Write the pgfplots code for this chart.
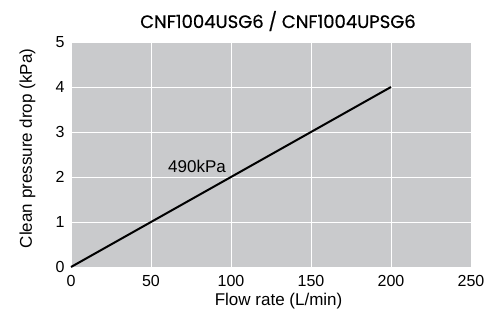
\documentclass[border=0pt]{standalone}
\usepackage{pgfplots}
\pgfplotsset{compat=1.18}
\usepackage{fontspec}
\setmainfont{Liberation Sans}
\newfontfamily\titlefont[FakeBold=0.6]{Poppins}
\definecolor{bgc}{HTML}{C9CACC}
\begin{document}
\begin{tikzpicture}[x=1pt,y=1pt]
\begin{axis}[
  at={(0,0)}, anchor=south west,
  scale only axis, width=400pt, height=225pt,
  xmin=0, xmax=250, ymin=0, ymax=5,
  xtick={0,50,...,250}, ytick={0,1,...,5},
  axis background/.style={fill=bgc},
  axis line style={draw=none},
  grid=major, major grid style={white, line width=0.8pt},
  tick style={draw=none},
  /pgf/number format/assume math mode=true,
  ticklabel style={font=\fontsize{16}{18}\selectfont},
  xticklabel style={anchor=center, yshift=-13.5pt},
  yticklabel style={anchor=center, xshift=-11pt},
  xlabel={Flow rate (L/min)}, ylabel={Clean pressure drop (kPa)},
  label style={font=\fontsize{17}{19}\selectfont},
  xlabel style={at={(axis description cs:0.519,-0.151)}, anchor=center},
  ylabel style={at={(axis description cs:-0.109,0.527)}, anchor=center},
  clip=false,
]
\addplot[black, line width=2pt] coordinates {(0,0) (200,4)};
\node[font=\fontsize{17}{19}\selectfont] at (axis cs:78.75,2.24) {490kPa};
\end{axis}
\node[anchor=base, font=\titlefont\fontsize{18}{20}\selectfont] at (207,239) {CNF1004USG6 / CNF1004UPSG6};
\pgfresetboundingbox
\path (-71,-54) rectangle (429,267);
\end{tikzpicture}
\end{document}
